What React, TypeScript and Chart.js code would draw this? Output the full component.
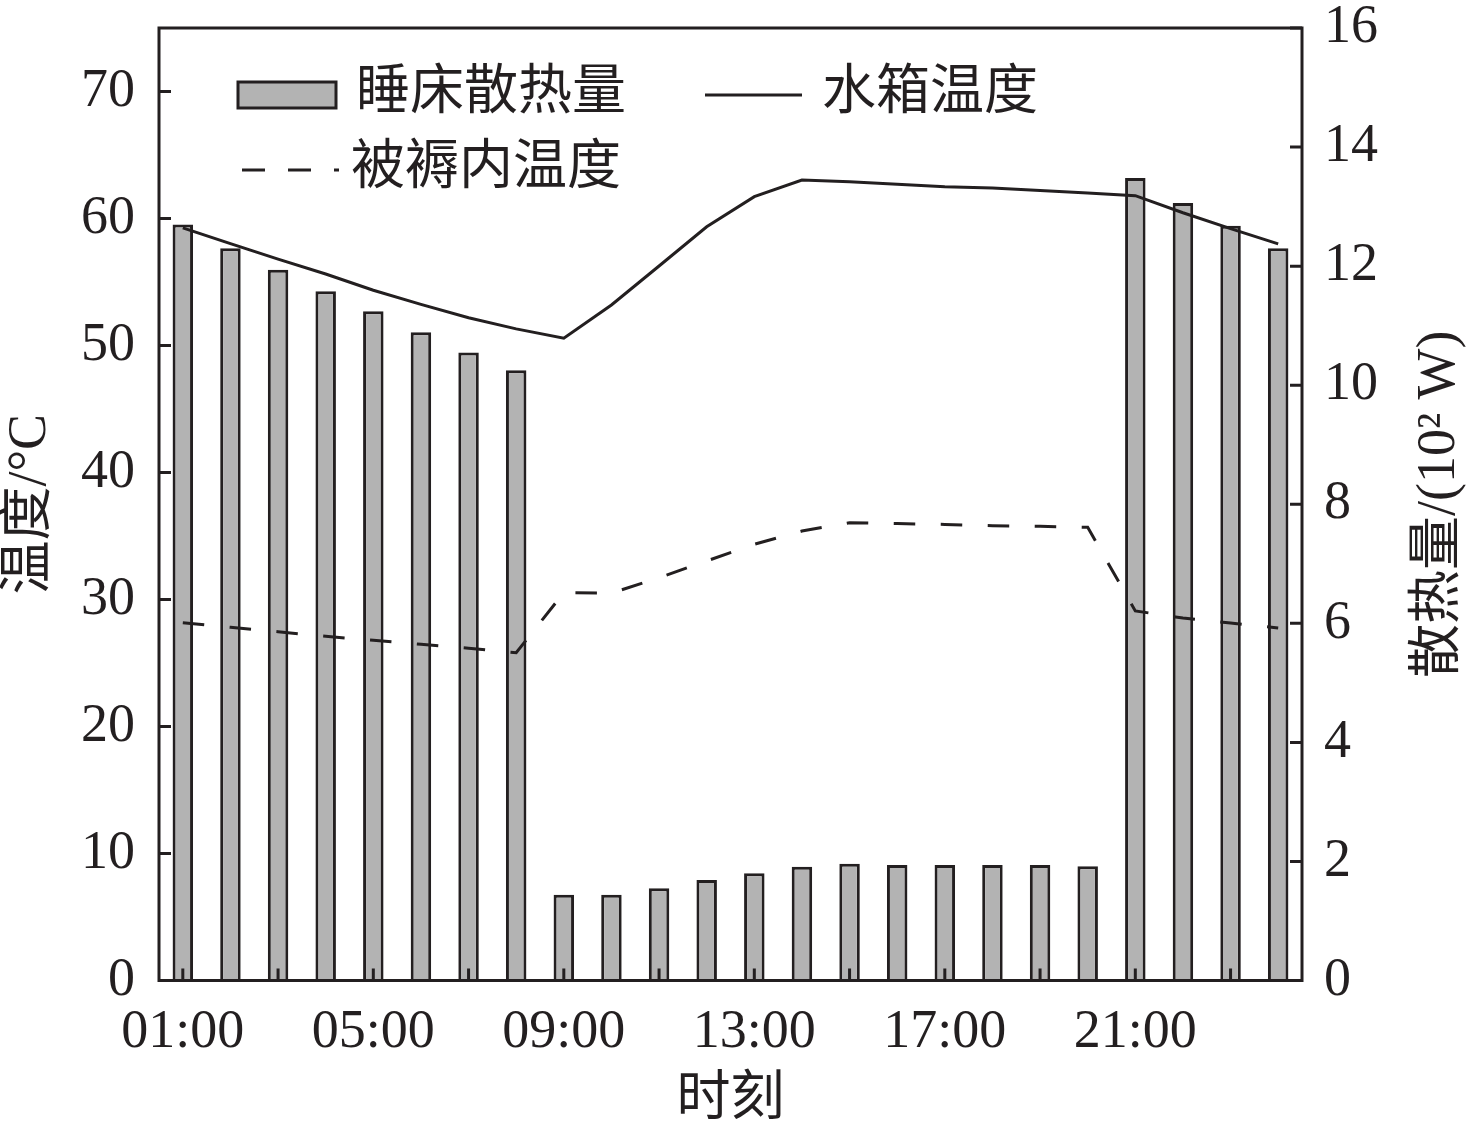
import { useEffect, useRef } from "react"
import { Chart, registerables, type ChartConfiguration, type Plugin } from "chart.js"

Chart.register(...registerables)

const INK = "#231f20"
const BAR_FILL = "#b3b3b3"
const FONT_FAMILY = "'Liberation Serif', 'Noto Sans CJK SC', serif"
const STROKE = 3

// hour of day
const hours = [
  "01:00", "02:00", "03:00", "04:00", "05:00", "06:00", "07:00", "08:00",
  "09:00", "10:00", "11:00", "12:00", "13:00", "14:00", "15:00", "16:00",
  "17:00", "18:00", "19:00", "20:00", "21:00", "22:00", "23:00", "24:00",
]

// bed heat release, 10^2 W (right axis)
const bedHeat = [
  12.7, 12.3, 11.94, 11.58, 11.24, 10.89, 10.55, 10.25,
  1.44, 1.44, 1.55, 1.69, 1.8, 1.91, 1.96, 1.94,
  1.94, 1.94, 1.94, 1.92, 13.48, 13.06, 12.68, 12.3,
]

// water tank temperature, °C (left axis)
const tankTemp = [
  59.26, 58.02, 56.8, 55.63, 54.35, 53.24, 52.18, 51.31,
  50.57, 53.19, 56.26, 59.35, 61.72, 63.03, 62.9, 62.7,
  62.5, 62.4, 62.2, 62.0, 61.8, 60.45, 59.2, 58.0,
]

// temperature inside the quilt, °C (left axis)
const quiltTemp = [
  28.17, 27.81, 27.46, 27.1, 26.79, 26.47, 26.16, 25.81,
  30.54, 30.5, 31.72, 33.03, 34.35, 35.39, 36.05, 35.98,
  35.91, 35.81, 35.76, 35.69, 29.1, 28.54, 28.15, 27.76,
]

const tempTicks = [0, 10, 20, 30, 40, 50, 60, 70]
const heatTicks = [0, 2, 4, 6, 8, 10, 12, 14, 16]

const TICK_LEN = 12

const framePlugin: Plugin = {
  id: "frame",
  afterDatasetsDraw(chart) {
    const { ctx, chartArea: a, scales } = chart
    const x = scales.x
    const yT = scales.yTemp
    const yH = scales.yHeat
    ctx.save()
    ctx.strokeStyle = INK
    ctx.lineWidth = STROKE
    ctx.setLineDash([])

    // inward tick marks
    ctx.beginPath()
    tempTicks.forEach((v) => {
      const p = yT.getPixelForValue(v)
      ctx.moveTo(a.left, p)
      ctx.lineTo(a.left + TICK_LEN, p)
    })
    heatTicks.forEach((v) => {
      const p = yH.getPixelForValue(v)
      ctx.moveTo(a.right, p)
      ctx.lineTo(a.right - TICK_LEN, p)
    })
    hours.forEach((_, i) => {
      if (i % 2) return
      const p = x.getPixelForValue(i)
      ctx.moveTo(p, a.bottom)
      ctx.lineTo(p, a.bottom - TICK_LEN)
    })
    ctx.stroke()

    // box around the plot
    ctx.strokeRect(a.left, a.top, a.right - a.left, a.bottom - a.top)

    // right axis title, reads bottom to top
    ctx.fillStyle = INK
    ctx.font = `54px ${FONT_FAMILY}`
    ctx.textAlign = "center"
    ctx.textBaseline = "middle"
    ctx.save()
    ctx.translate(yH.right - 36, (a.top + a.bottom) / 2)
    ctx.rotate(-Math.PI / 2)
    ctx.fillText("散热量/(10² W)", 0, 0)
    ctx.restore()

    // legend
    const ds = chart.data.datasets as any[]
    const bar = ds.find((d) => d.type === "bar")
    const tank = ds[0]
    const quilt = ds[1]
    const lx = a.left
    const ly = a.top
    ctx.textAlign = "left"

    ctx.fillStyle = bar.backgroundColor
    ctx.fillRect(lx + 79, ly + 54, 98, 26)
    ctx.strokeStyle = INK
    ctx.lineWidth = STROKE
    ctx.strokeRect(lx + 79, ly + 54, 98, 26)
    ctx.fillStyle = INK
    ctx.fillText(bar.label, lx + 197, ly + 67)

    ctx.beginPath()
    ctx.moveTo(lx + 546, ly + 67)
    ctx.lineTo(lx + 643, ly + 67)
    ctx.lineWidth = tank.borderWidth
    ctx.stroke()
    ctx.fillText(tank.label, lx + 663, ly + 67)

    ctx.beginPath()
    ctx.setLineDash([23, 23])
    ctx.moveTo(lx + 83, ly + 142)
    ctx.lineTo(lx + 180, ly + 142)
    ctx.lineWidth = quilt.borderWidth
    ctx.stroke()
    ctx.setLineDash([])
    ctx.fillText(quilt.label, lx + 192, ly + 142)

    ctx.restore()
  },
}

export default function App() {
  const chartRef = useRef<HTMLCanvasElement>(null)
  const chartInstance = useRef<Chart | null>(null)

  useEffect(() => {
    if (!chartRef.current) return
    const ctx = chartRef.current.getContext("2d")
    if (!ctx) return

    if (chartInstance.current) {
      chartInstance.current.destroy()
    }

    const tickFont = { family: FONT_FAMILY, size: 54, lineHeight: 1 }

    const config: ChartConfiguration = {
      type: "bar",
      data: {
        labels: hours,
        datasets: [
          {
            type: "line",
            label: "水箱温度",
            data: tankTemp,
            yAxisID: "yTemp",
            borderColor: INK,
            borderWidth: STROKE,
            pointRadius: 0,
            tension: 0,
            fill: false,
            order: 0,
          },
          {
            type: "line",
            label: "被褥内温度",
            data: quiltTemp,
            yAxisID: "yTemp",
            borderColor: INK,
            borderWidth: STROKE,
            borderDash: [21.5, 25.5],
            pointRadius: 0,
            tension: 0,
            fill: false,
            order: 0,
          },
          {
            type: "bar",
            label: "睡床散热量",
            data: bedHeat,
            yAxisID: "yHeat",
            backgroundColor: BAR_FILL,
            borderColor: INK,
            borderWidth: STROKE,
            categoryPercentage: 1,
            barPercentage: 0.43,
            order: 1,
          },
        ],
      },
      options: {
        responsive: true,
        maintainAspectRatio: false,
        animation: false,
        layout: { padding: { top: 28, left: 0, right: 0, bottom: 0 } },
        plugins: {
          legend: { display: false },
          tooltip: { enabled: false },
        },
        scales: {
          x: {
            offset: true,
            grid: { display: false, drawTicks: false },
            border: { display: false },
            ticks: {
              color: INK,
              font: tickFont,
              padding: 25,
              autoSkip: false,
              maxRotation: 0,
              minRotation: 0,
              callback: (_v, i) => (i % 4 === 0 ? hours[i] : ""),
            },
            title: {
              display: true,
              text: "时刻",
              color: INK,
              font: { family: FONT_FAMILY, size: 54, lineHeight: 1 },
              padding: { top: 0, bottom: 13 },
            },
            afterFit: (s: any) => {
              s.height = 160.5
              s.paddingLeft = 0
              s.paddingRight = 0
            },
          },
          yTemp: {
            position: "left",
            min: 0,
            max: 75,
            grid: { display: false, drawTicks: false },
            border: { display: false },
            ticks: { stepSize: 10, color: INK, font: tickFont, padding: 24 },
            afterBuildTicks: (s: any) => {
              s.ticks = tempTicks.map((v) => ({ value: v }))
            },
            title: {
              display: true,
              text: "温度/°C",
              color: INK,
              font: { family: FONT_FAMILY, size: 54, lineHeight: 1 },
              padding: { top: 4, bottom: 0 },
            },
            afterFit: (s: any) => {
              s.width = 159
              s.paddingTop = 0
              s.paddingBottom = 0
            },
          },
          yHeat: {
            position: "right",
            min: 0,
            max: 16,
            grid: { display: false, drawTicks: false },
            border: { display: false },
            ticks: { stepSize: 2, color: INK, font: tickFont, padding: 22 },
            afterBuildTicks: (s: any) => {
              s.ticks = heatTicks.map((v) => ({ value: v }))
            },
            afterFit: (s: any) => {
              s.width = 174
              s.paddingTop = 0
              s.paddingBottom = 0
            },
          },
        },
      },
      plugins: [framePlugin],
    }

    chartInstance.current = new Chart(ctx, config)

    return () => {
      if (chartInstance.current) {
        chartInstance.current.destroy()
        chartInstance.current = null
      }
    }
  }, [])

  return (
    <div style={{ position: "fixed", left: 0, top: 0, width: 1476, height: 1141, background: "#fff" }}>
      <canvas ref={chartRef} />
    </div>
  )
}
